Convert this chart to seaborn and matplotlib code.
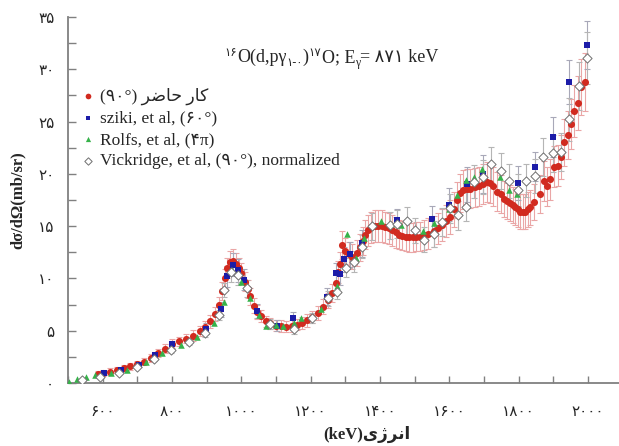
import numpy as np
import pandas as pd
import matplotlib
matplotlib.use('Agg')
import matplotlib.pyplot as plt
import seaborn as sns
from matplotlib.font_manager import FontProperties

# ---- data (energy keV, cross section mb/sr, error) ----
red_e = [585, 600, 620, 640, 660, 680, 700, 720, 740, 760, 780, 800, 820, 840, 860, 880, 895,
         910, 925, 935, 945, 952, 960, 968, 976, 984, 992, 1000, 1010, 1018, 1026, 1036, 1046,
         1056, 1070, 1084, 1100, 1115, 1130, 1145, 1160, 1175, 1190, 1205, 1220, 1235, 1250,
         1262, 1272, 1280, 1286, 1291, 1300, 1310, 1320, 1334, 1342, 1350, 1358, 1366, 1375,
         1385, 1395, 1405, 1415, 1425, 1435, 1445, 1455, 1465, 1475, 1485, 1495, 1505, 1515,
         1527, 1540, 1555, 1567, 1578, 1590, 1603, 1613, 1623, 1632, 1640, 1650, 1661, 1673,
         1685, 1697, 1709, 1718, 1727, 1738, 1748, 1757, 1766, 1776, 1785, 1791, 1798, 1805,
         1812, 1820, 1826, 1832, 1844, 1861, 1873, 1882, 1892, 1901, 1913, 1923, 1932, 1942,
         1952, 1961, 1973, 1981, 1993]
red_y = [0.9, 1.0, 1.1, 1.25, 1.4, 1.6, 1.8, 2.05, 2.4, 2.85, 3.3, 3.75, 4.0, 4.25, 4.55, 5.0, 5.4,
         5.9, 6.6, 7.5, 8.8, 10.0, 11.0, 11.6, 11.7, 11.4, 11.0, 10.5, 9.7, 9.0, 8.3, 7.4, 6.8,
         6.4, 5.9, 5.7, 5.5, 5.45, 5.4, 5.45, 5.6, 5.75, 6.0, 6.3, 6.7, 7.3, 7.9,
         8.6, 9.6, 10.6, 11.4, 13.2, 12.6, 12.3, 12.1, 12.4, 13.0, 13.6, 14.2, 14.6, 14.9,
         15.0, 15.0, 15.0, 14.9, 14.8, 14.6, 14.4, 14.2, 14.1, 14.0, 13.95, 13.95, 14.0, 14.0,
         14.15, 14.3, 14.5, 14.8, 15.1, 15.5, 15.9, 16.6, 17.5, 18.2, 18.5, 18.6, 18.6, 18.7,
         18.8, 19.0, 19.25, 19.1, 18.8, 18.3, 18.1, 17.6, 17.4, 17.2, 17.0, 16.85, 16.6, 16.4,
         16.4, 16.4, 16.6, 16.8, 17.3, 18.1, 19.3, 18.8, 19.5, 20.7, 20.8, 21.6, 23.0, 23.7,
         24.8, 26.0, 26.8, 28.3, 28.8]
red_err = [0.3, 0.3, 0.3, 0.3, 0.3, 0.3, 0.35, 0.35, 0.4, 0.4, 0.4, 0.45, 0.45, 0.45, 0.5, 0.5, 0.55,
           0.6, 0.65, 0.75, 0.85, 0.95, 1.0, 1.05, 1.1, 1.05, 1.0, 1.0, 0.9, 0.85, 0.8, 0.7, 0.65,
           0.6, 0.55, 0.55, 0.55, 0.55, 0.55, 0.55, 0.55, 0.55, 0.6, 0.6, 0.65, 0.7, 0.75,
           0.85, 0.95, 1.05, 1.1, 1.3, 1.25, 1.2, 1.2, 1.25, 1.3, 1.35, 1.4, 1.45, 1.5,
           1.5, 1.5, 1.5, 1.5, 1.5, 1.45, 1.45, 1.4, 1.4, 1.4, 1.4, 1.4, 1.4, 1.4,
           1.4, 1.45, 1.45, 1.5, 1.5, 1.55, 1.6, 1.65, 1.75, 1.8, 1.85, 1.85, 1.85, 1.85,
           1.9, 1.9, 1.9, 1.9, 1.9, 1.85, 1.8, 1.75, 1.75, 1.7, 1.7, 1.7, 1.7, 1.7,
           1.7, 1.7, 1.7, 1.7, 1.75, 1.8, 1.9, 1.9, 1.95, 2.0, 2.0, 2.1, 2.2, 2.3,
           2.4, 2.5, 2.6, 2.7, 2.8]

blue_e = [604, 652, 705, 751, 801, 899, 940, 960, 976, 990, 1007, 1044, 1104, 1148, 1248, 1272,
          1284, 1296, 1315, 1349, 1449, 1550, 1598, 1652, 1698, 1798, 1849, 1899, 1947, 1999]
blue_y = [1.0, 1.25, 1.7, 2.7, 3.7, 5.2, 7.05, 10.2, 11.3, 10.8, 9.9, 6.9, 5.5, 6.2, 8.25, 10.5,
          10.4, 11.85, 12.3, 13.35, 15.55, 15.7, 17.05, 19.0, 20.0, 19.15, 20.7, 23.55, 28.8, 32.3]
blue_err = [0.2, 0.2, 0.2, 0.3, 0.35, 0.5, 0.7, 1.0, 1.1, 1.1, 1.0, 0.7, 0.55, 0.6, 0.8, 1.0,
            1.0, 1.2, 1.2, 1.3, 1.1, 1.2, 1.6, 1.7, 1.8, 1.6, 1.4, 1.9, 2.1, 2.3]

green_e = [503, 525, 551, 578, 623, 671, 724, 772, 825, 873, 921, 950, 972, 998, 1025, 1051,
           1070, 1099, 1120, 1152, 1171, 1229, 1277, 1306, 1330, 1353, 1402, 1431, 1461, 1524,
           1555, 1598, 1623, 1649, 1671, 1695, 1746, 1772, 1796]
green_y = [0.13, 0.35, 0.55, 0.76, 0.98, 1.3, 2.05, 2.9, 3.6, 4.4, 5.7, 7.8, 10.8, 9.7, 8.1, 6.5,
           5.5, 5.55, 5.5, 5.75, 6.2, 7.1, 9.3, 14.25, 12.0, 13.9, 15.5, 15.2, 15.1, 14.55,
           15.3, 16.6, 18.0, 19.4, 19.7, 20.45, 19.7, 18.5, 18.1]

vick_e = [541, 592, 647, 700, 748, 796, 849, 894, 935, 950, 969, 990, 1015, 1084, 1152, 1205,
          1250, 1277, 1301, 1325, 1349, 1378, 1430, 1450, 1477, 1500, 1527, 1555, 1580, 1603,
          1625, 1647, 1671, 1698, 1722, 1748, 1772, 1798, 1823, 1847, 1870, 1899, 1923, 1947,
          1974, 1999]
vick_y = [0.29, 0.6, 0.98, 1.56, 2.35, 3.15, 3.95, 4.8, 6.5, 8.9, 10.6, 10.3, 9.05, 5.65, 5.2, 6.2,
          8.1, 8.7, 11.05, 11.6, 13.05, 15.0, 15.1, 15.2, 15.5, 14.6, 13.7, 14.25, 15.4, 16.7,
          16.05, 16.85, 19.25, 19.7, 20.9, 20.3, 19.3, 18.45, 19.35, 19.8, 21.6, 21.95, 22.1, 25.2,
          28.4, 31.1]
vick_err = [0.05, 0.1, 0.1, 0.15, 0.2, 0.25, 0.3, 0.4, 0.5, 0.7, 0.9, 0.9, 0.8, 0.5, 0.5, 0.5,
            0.7, 0.7, 0.9, 1.0, 1.1, 1.3, 1.3, 1.3, 1.3, 1.2, 1.2, 1.2, 1.3, 1.4,
            1.4, 1.4, 1.6, 1.6, 1.7, 1.7, 1.6, 1.5, 1.6, 1.6, 1.8, 1.8, 1.8, 2.1,
            2.3, 2.5]

# persian digits / labels
x_ticks = [600, 800, 1000, 1200, 1400, 1600, 1800, 2000]
x_tick_labels = ['۶۰۰', '۸۰۰', '۱۰۰۰', '۱۲۰۰', '۱۴۰۰', '۱۶۰۰', '۱۸۰۰', '۲۰۰۰']
y_ticks = [0, 5, 10, 15, 20, 25, 30, 35]
y_tick_labels = ['۰', '۵', '۱۰', '۱۵', '۲۰', '۲۵', '۳۰', '۳۵']

# Persian words written in visual (left-to-right) order with presentation forms,
# since matplotlib does no bidi / shaping
lbl_present = '(۹۰°) ' + '\ufeae\ufebf\ufe8e\ufea3' + ' ' + '\ufead\ufe8e\ufb90'   # کار حاضر
lbl_sziki = 'sziki, et al, (۶۰°)'
lbl_rolfs = 'Rolfs, et al, (۴π)'
lbl_vick = 'Vickridge, et al, (۹۰°), normalized'
x_label = '(keV)' + '\ufbfc\ufb8a\ufeae\ufee7\ufe8d'   # انرژی
y_label = 'dσ/dΩ(mb/sr)'

sns.set_style('ticks')
plt.rcParams['font.family'] = ['Liberation Serif', 'DejaVu Sans']
fams = ['Liberation Serif', 'DejaVu Sans']

fig = plt.figure(figsize=(6.19, 4.46), dpi=100)
ax = fig.add_axes([0.110, 0.141, 0.89, 0.821])

# error bars first
ax.errorbar(red_e, red_y, yerr=red_err, fmt='none', ecolor='#eaa6a6', elinewidth=0.8,
            capsize=2.4, capthick=0.8, zorder=1)
ax.errorbar(blue_e, blue_y, yerr=blue_err, fmt='none', ecolor='#a8a8b8', elinewidth=0.8,
            capsize=2.4, capthick=0.8, zorder=1)
ax.errorbar(vick_e, vick_y, yerr=vick_err, fmt='none', ecolor='#b5b5b5', elinewidth=0.8,
            capsize=2.4, capthick=0.8, zorder=1)

sns.scatterplot(x=red_e, y=red_y, marker='o', color='#d12a1f', s=26, linewidth=0,
                label=lbl_present, ax=ax, zorder=3)
sns.scatterplot(x=blue_e, y=blue_y, marker='s', color='#1c1ca8', s=14, linewidth=0,
                label=lbl_sziki, ax=ax, zorder=4)
sns.scatterplot(x=green_e, y=green_y, marker='^', color='#36b24a', s=22, linewidth=0,
                label=lbl_rolfs, ax=ax, zorder=4)
sns.scatterplot(x=vick_e, y=vick_y, marker='D', facecolor='white', edgecolor='#707070', s=22,
                linewidth=0.7, label=lbl_vick, ax=ax, zorder=5)

ax.set_xlim(500, 2090)
ax.set_ylim(0, 35)
ax.set_xticks(x_ticks)
ax.set_xticklabels(x_tick_labels, fontproperties=FontProperties(family='DejaVu Sans', size=11))
ax.set_xticks(np.arange(500, 2100, 100), minor=True)
ax.set_yticks(y_ticks)
ax.set_yticklabels(y_tick_labels, fontproperties=FontProperties(family='DejaVu Sans', size=11))
ax.set_yticks(np.arange(2.5, 35, 5), minor=True)
ax.tick_params(axis='both', which='both', direction='in', color='#808080', width=1.0)
ax.tick_params(axis='x', which='both', length=5, pad=15)
ax.tick_params(axis='y', which='both', length=6, pad=10)

for s in ['top', 'right']:
    ax.spines[s].set_visible(False)
for s in ['left', 'bottom']:
    ax.spines[s].set_color('#808080')
    ax.spines[s].set_linewidth(1.3)

ax.set_xlabel(x_label, fontproperties=FontProperties(family=fams, weight='bold', size=12))
ax.xaxis.set_label_coords((367 - 68) / 551, -0.118)
fig.text(18 / 619, 1 - 200 / 446, y_label, rotation=90, ha='center', va='center',
         fontproperties=FontProperties(family=fams, weight='bold', size=12))

leg = ax.legend(loc='upper left', bbox_to_anchor=(0.005, 0.825), frameon=False,
                prop=FontProperties(family=fams, size=12.5), handletextpad=0.1,
                handlelength=1.2, labelspacing=0.3, markerscale=0.8, borderaxespad=0)

# reaction title built from pieces (sub/superscripts with persian digits)
tp = FontProperties(family=fams, size=13)
sp = FontProperties(family=fams, size=8.5)
base = fig.text(237 / 619, 1 - 66 / 446, 'O(d,pγ', fontproperties=tp, va='bottom', ha='left')
ax.annotate('۱۶', xy=(0, 0), xycoords=base, xytext=(0, 5), textcoords='offset points',
            ha='right', va='bottom', fontproperties=sp)
pieces = [('۱-۰', sp, -2), (')', tp, 0), ('۱۷', sp, 5), ('O; E', tp, 0), ('γ', sp, -2),
          ('= ۸۷۱ keV', tp, 0)]
prev = base
for txt, fp, dy in pieces:
    prev = ax.annotate(txt, xy=(1, 0), xycoords=(prev, base), xytext=(0, dy),
                       textcoords='offset points', ha='left', va='bottom', fontproperties=fp)

fig.savefig('out.png', dpi=100)
